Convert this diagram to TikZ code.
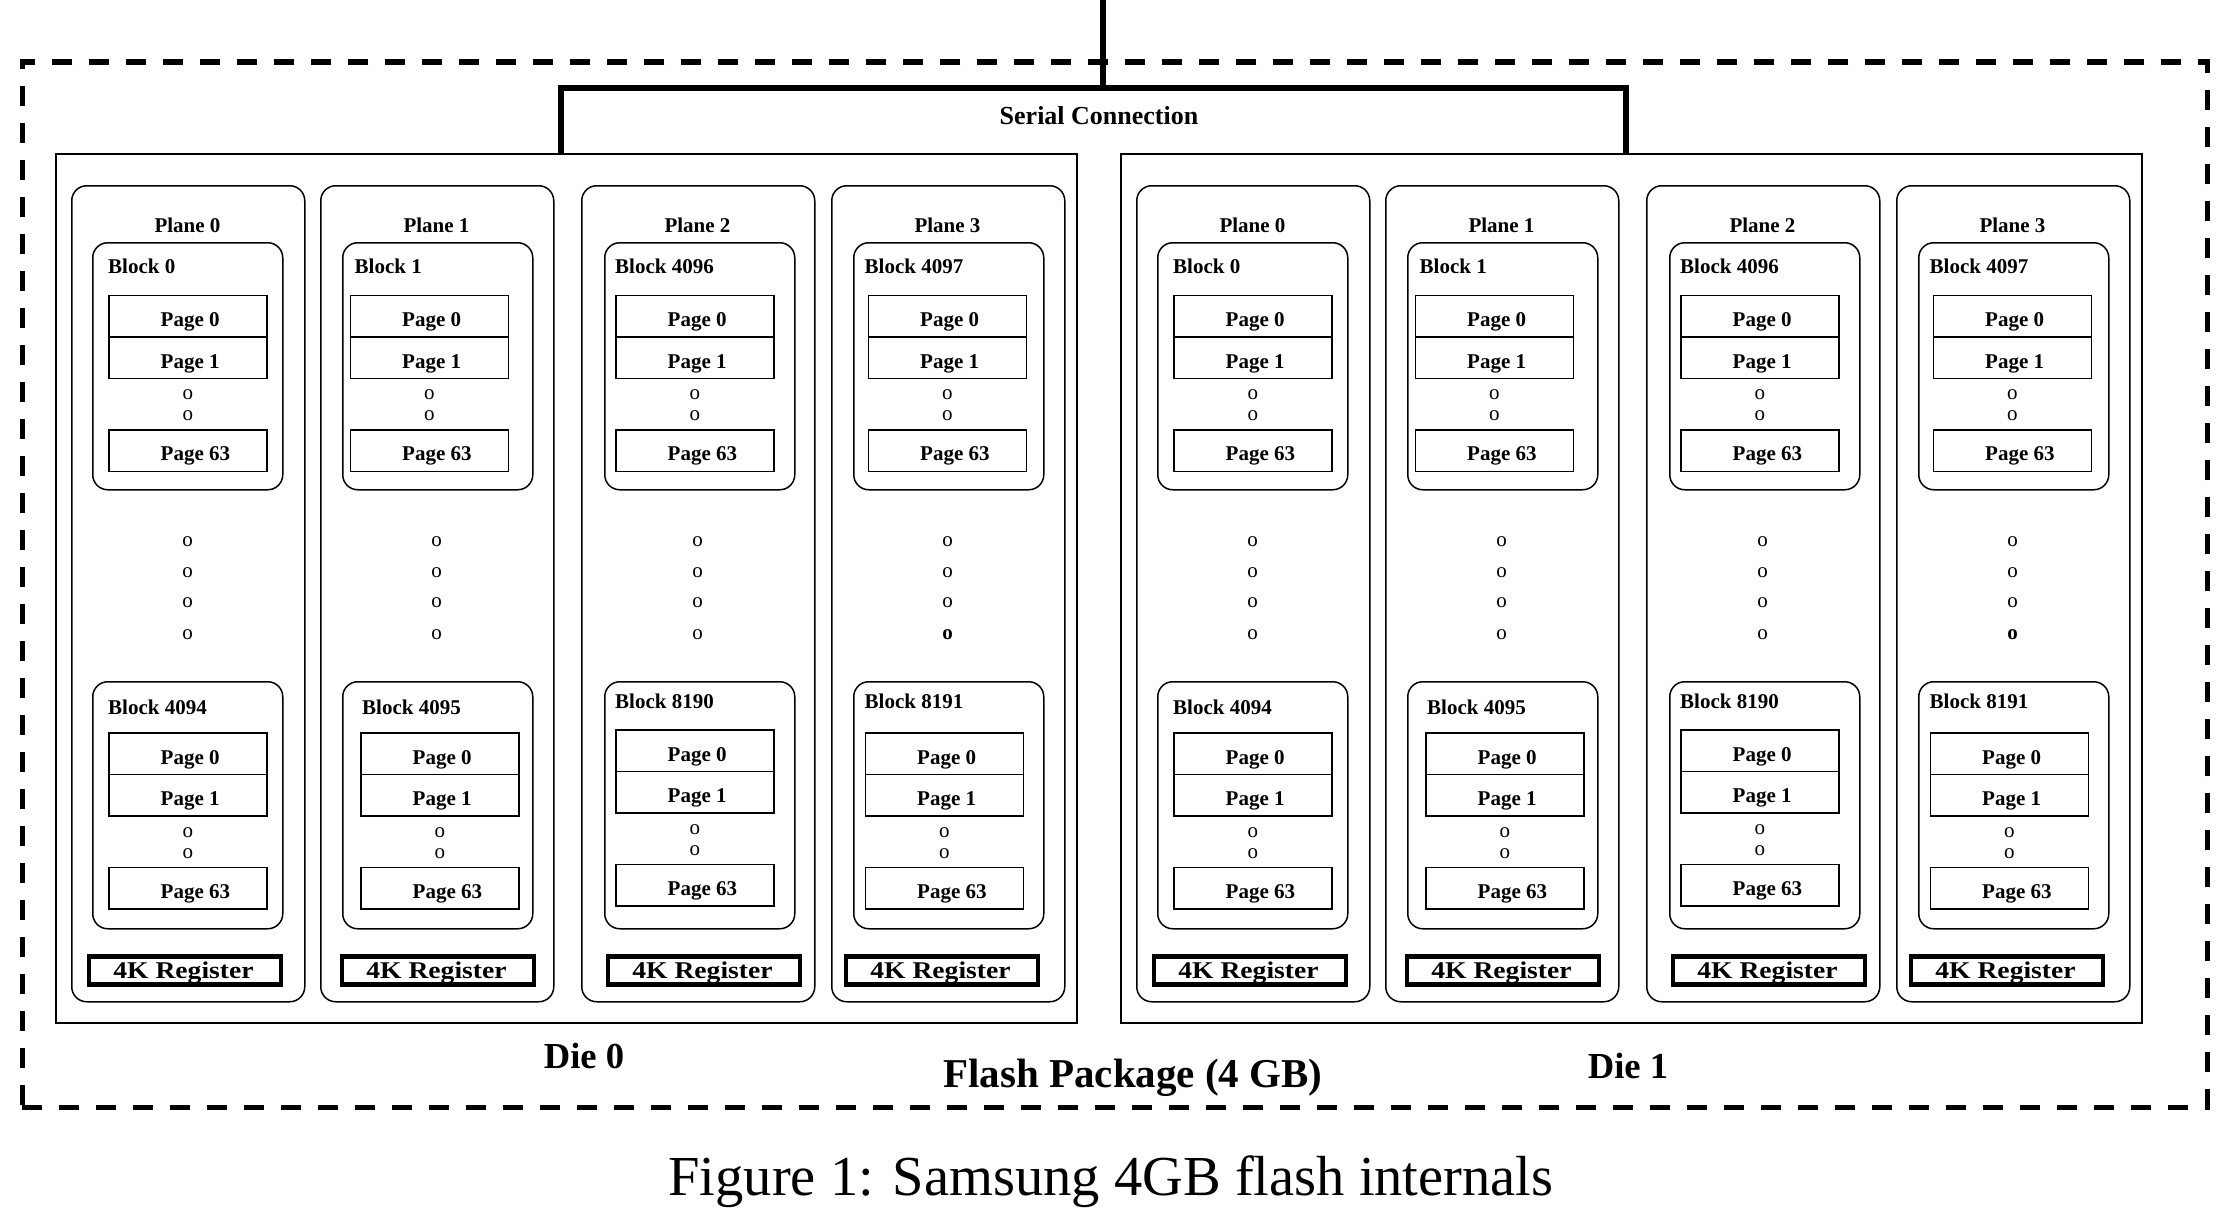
\documentclass[tikz,border=0pt]{standalone}
\usepackage{graphicx}
\usepackage{fontspec}
\setmainfont{Liberation Serif}

\begin{document}
\begin{tikzpicture}
[x=1pt,y=-1pt,
 outline/.style={draw,inner sep=0pt,anchor=north west},
 diebox/.style={outline,line width=2pt,minimum width=1021pt,minimum height=869pt},
 planebox/.style={outline,line width=1.5pt,rounded corners=15pt,minimum width=233pt,minimum height=816pt},
 blockbox/.style={outline,line width=1.5pt,rounded corners=15pt,minimum width=190pt,minimum height=247pt},
 pagebox/.style={outline,line width=1.6pt,minimum width=158pt,minimum height=41.5pt},
 regbox/.style={draw,line width=4.2pt,inner sep=0pt,minimum width=192pt,minimum height=28pt},
 regtext/.style={inner sep=0pt,anchor=base,font=\fontsize{24}{26}\selectfont\bfseries},
 smalltext/.style={inner sep=0pt,font=\fontsize{21}{24}\selectfont\bfseries},
 dotmark/.style={inner sep=0pt,font=\fontsize{21}{24}\selectfont},
 pkgbox/.style={outline,line width=5.5pt,dash pattern=on 20pt off 17pt,minimum width=2185pt,minimum height=1045pt},
 serial/.style={line width=6pt},
]
\def \shiftdie {1065}
\path[fill=white] (0,0) rectangle (2228,1212);
\useasboundingbox (0,0) rectangle (2228,1212);

\node[pkgbox] (pkg) at (19.5,59.5) {};

\foreach \d in {0,1}
{
\begin{scope}[xshift=\d*\shiftdie pt]
\node[diebox] (die\d) at (55,153) {};
% plane / top block / bottom block / register
\foreach \p/\px/\bx/\tl/\tlx/\tpx/\bl/\blx/\bly/\bpx/\bpy/\rx in
 {0/71/92/0/108/108/4094/108/714/108/732/87,
  1/320/342/1/354.5/349.5/4095/362/714/360/732/340,
  2/581/604/4096/615/615/8190/615/708.5/615/729/606,
  3/831/853/4097/864.5/867.5/8191/864.5/708.5/864.5/732/844}
{
\node[planebox] (plane\d\p) at (\px,185) {};
\node[smalltext,anchor=base] (plbl\d\p) at (\px+116.5,232) {Plane \p};

% top block
\node[blockbox] (blkA\d\p) at (\bx,242) {};
\node[smalltext,anchor=base west] (blblA\d\p) at (\tlx,273.5) {Block \tl};
\node[pagebox] (tp\d\p0) at (\tpx,294.5) {};
\node[pagebox] (tp\d\p1) at (\tpx,336) {};
\node[pagebox] (tp\d\p63) at (\tpx,429) {};
\node[smalltext,anchor=base west] at ([xshift=52.5pt,yshift=-32pt]tp\d\p0.north west) {Page 0};
\node[smalltext,anchor=base west] at ([xshift=52.5pt,yshift=-32pt]tp\d\p1.north west) {Page 1};
\node[smalltext,anchor=base west] at ([xshift=52.5pt,yshift=-31.5pt]tp\d\p63.north west) {Page 63};
\node[dotmark] (tdA\d\p) at ([yshift=-16pt]tp\d\p1.south) {o};
\node[dotmark] (tdB\d\p) at ([yshift=-37pt]tp\d\p1.south) {o};

% blocks in between
\node[dotmark] (md\d\p1) at (\px+116.5,542) {o};
\node[dotmark] (md\d\p2) at (\px+116.5,573) {o};
\node[dotmark] (md\d\p3) at (\px+116.5,603) {o};
\node[dotmark] (md\d\p4) at (\px+116.5,635) {\ifnum\p=3\bfseries\fi o};

% bottom block
\node[blockbox] (blkB\d\p) at (\bx,681) {};
\node[smalltext,anchor=base west] (blblB\d\p) at (\blx,\bly) {Block \bl};
\node[pagebox] (bp\d\p0) at (\bpx,\bpy) {};
\node[pagebox] (bp\d\p1) at (\bpx,\bpy+41.5) {};
\node[pagebox] (bp\d\p63) at (\bpx,\bpy+134.5) {};
\node[smalltext,anchor=base west] at ([xshift=52.5pt,yshift=-32pt]bp\d\p0.north west) {Page 0};
\node[smalltext,anchor=base west] at ([xshift=52.5pt,yshift=-32pt]bp\d\p1.north west) {Page 1};
\node[smalltext,anchor=base west] at ([xshift=52.5pt,yshift=-31.5pt]bp\d\p63.north west) {Page 63};
\node[dotmark] (bdA\d\p) at ([yshift=-16pt]bp\d\p1.south) {o};
\node[dotmark] (bdB\d\p) at ([yshift=-37pt]bp\d\p1.south) {o};

\node[regbox] (reg\d\p) at (\rx+98,970.5) {};
\node[regtext] (regtxt\d\p) at ([xshift=-1.5pt,yshift=-8pt]reg\d\p.center) {\scalebox{1.15}[1]{4K Register}};
}
\end{scope}
}

% serial connection
\coordinate (sc) at (1103,88);
\coordinate (feed) at (1103,0);
\draw[serial] ([xshift=506pt]die0.north west) |- (sc) -| ([xshift=506pt]die1.north west);
\draw[serial] (feed) -- (sc);
\node[inner sep=0pt,anchor=base,font=\fontsize{26}{30}\selectfont\bfseries] (serlbl) at (1099,124.5) {Serial Connection};

\node[inner sep=0pt,font=\fontsize{36.6}{40}\selectfont\bfseries] (die0lbl) at (584,1056) {Die 0};
\node[inner sep=0pt,font=\fontsize{36.6}{40}\selectfont\bfseries] (die1lbl) at (1628,1066) {Die 1};
\node[inner sep=0pt,anchor=base,font=\fontsize{41}{44}\selectfont\bfseries] (pkglbl) at (1133,1087) {Flash Package (4 GB)};

\node[inner sep=0pt,anchor=base,font=\fontsize{56.5}{60}\selectfont] (caption) at (1111,1195.5) {Figure 1: Samsung 4GB flash internals};
\end{tikzpicture}
\end{document}
